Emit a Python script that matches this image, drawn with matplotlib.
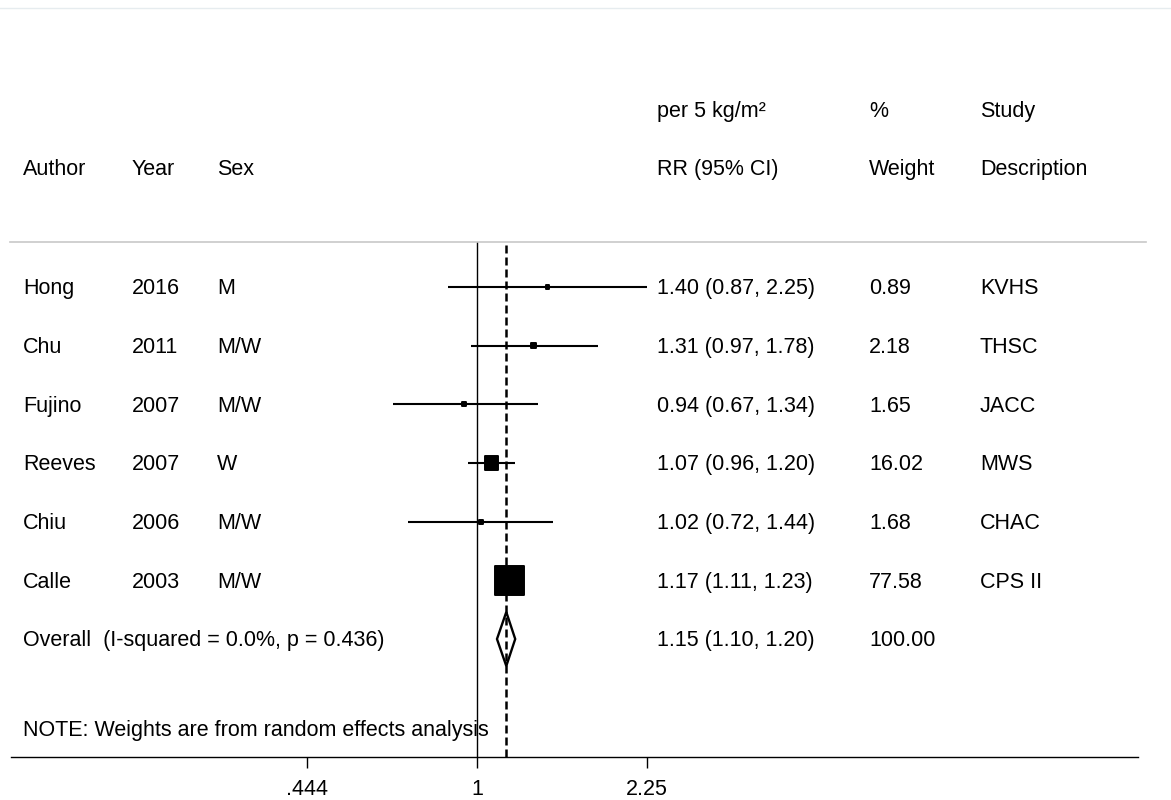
import numpy as np
import matplotlib
matplotlib.use("Agg")
import matplotlib.pyplot as plt
from matplotlib.patches import Polygon
from matplotlib.lines import Line2D

plt.rcParams['font.family'] = ['Liberation Sans', 'DejaVu Sans']

# study data
authors = ["Hong", "Chu", "Fujino", "Reeves", "Chiu", "Calle"]
years = ["2016", "2011", "2007", "2007", "2006", "2003"]
sexes = ["M", "M/W", "M/W", "W", "M/W", "M/W"]
rr = [1.40, 1.31, 0.94, 1.07, 1.02, 1.17]
lo = [0.87, 0.97, 0.67, 0.96, 0.72, 1.11]
hi = [2.25, 1.78, 1.34, 1.20, 1.44, 1.23]
weights = [0.89, 2.18, 1.65, 16.02, 1.68, 77.58]
studies = ["KVHS", "THSC", "JACC", "MWS", "CHAC", "CPS II"]

# pooled estimate
ov_rr, ov_lo, ov_hi = 1.15, 1.10, 1.20
ov_label = "Overall  (I-squared = 0.0%, p = 0.436)"
ov_weight = "100.00"

xticks = [0.444, 1, 2.25]
xticklabels = [".444", "1", "2.25"]

W, H = 1171, 800
fig = plt.figure(figsize=(W / 100, H / 100), dpi=100)

# plot area in pixels: x 11..1138, y 242..757
ax = fig.add_axes([11 / W, (H - 757) / H, 1127 / W, 515 / H])
ax.set_xscale("log")
k = 209.6
ax.set_xlim(np.exp((11 - 477) / k), np.exp((1138 - 477) / k))
ax.set_ylim(8.011, -0.767)

rows = np.arange(len(authors))
ov_row = len(authors)

ax.axvline(1, color="black", lw=1.0, zorder=1)
ax.hlines(rows, lo, hi, color="black", lw=1.5, zorder=2)
ax.scatter(rr, rows, s=np.array(weights) * 5.6, marker="s", color="black",
           edgecolors="black", linewidths=1.4, zorder=3)

dia = Polygon([(ov_lo, ov_row), (ov_rr, ov_row - 0.46), (ov_hi, ov_row),
               (ov_rr, ov_row + 0.46)], closed=True, facecolor="white",
              edgecolor="black", lw=1.7, zorder=4)
ax.add_patch(dia)
ax.axvline(ov_rr, color="black", lw=1.8, dashes=(3.2, 1.6), zorder=5)

for s in ["left", "right", "top"]:
    ax.spines[s].set_visible(False)
ax.spines["bottom"].set_linewidth(1.0)
ax.set_yticks([])
ax.minorticks_off()
ax.set_xticks(xticks)
ax.set_xticklabels(xticklabels)
ax.tick_params(axis="x", direction="out", length=8, width=1.0, pad=8,
               labelsize=15.5)

# text columns
tr = ax.get_yaxis_transform()
def col(px):
    return (px - 11) / 1127

fs = 15.5
def put(px, y, s):
    ax.text(col(px), y + 0.03, s, transform=tr, fontsize=fs, va="center",
            ha="left", clip_on=False)

put(657, -3.017, "per 5 kg/m²")
put(869, -3.017, "%")
put(980, -3.017, "Study")
put(23, -2.028, "Author")
put(132, -2.028, "Year")
put(217, -2.028, "Sex")
put(657, -2.028, "RR (95% CI)")
put(869, -2.028, "Weight")
put(980, -2.028, "Description")

for i in rows:
    put(23, i, authors[i])
    put(132, i, years[i])
    put(217, i, sexes[i])
    put(657, i, "%.2f (%.2f, %.2f)" % (rr[i], lo[i], hi[i]))
    put(869, i, "%.2f" % weights[i])
    put(980, i, studies[i])

put(23, ov_row, ov_label)
put(657, ov_row, "%.2f (%.2f, %.2f)" % (ov_rr, ov_lo, ov_hi))
put(869, ov_row, ov_weight)
put(23, 7.53, "NOTE: Weights are from random effects analysis")

# header rule and top border
fig.add_artist(Line2D([10 / W, 1146 / W], [(H - 242) / H] * 2,
                      color="#c8c8c8", lw=1.2))
fig.add_artist(Line2D([0, 1], [(H - 8) / H] * 2, color="#e6ecef", lw=1.0))

fig.savefig("out.png", dpi=100)
